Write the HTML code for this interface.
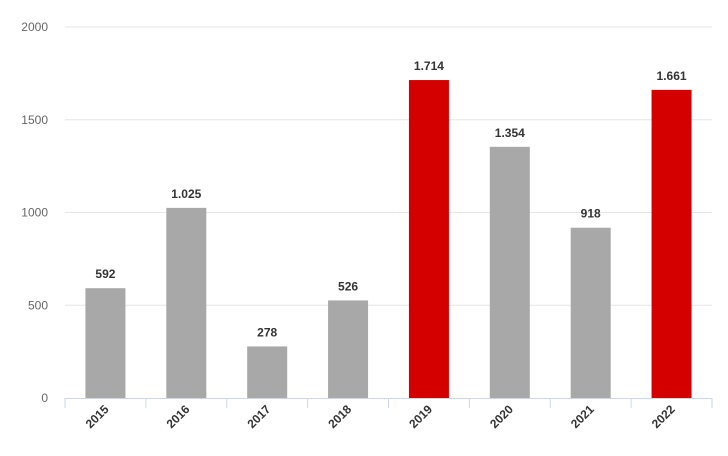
<!DOCTYPE html>
<html><head><meta charset="utf-8"><style>
html,body{margin:0;padding:0;background:#fff;}
svg{display:block;font-family:"Liberation Sans","DejaVu Sans",sans-serif;}
</style></head><body>
<svg id="chart" width="728" height="456" viewBox="0 0 728 456" xmlns="http://www.w3.org/2000/svg"></svg>
<script>
const categories = ["2015","2016","2017","2018","2019","2020","2021","2022"];
const values = [592,1025,278,526,1714,1354,918,1661];
const valueLabels = ["592","1.025","278","526","1.714","1.354","918","1.661"];
const highlighted = [false,false,false,false,true,false,false,true];
const yTicks = [0,500,1000,1500,2000];

const NS="http://www.w3.org/2000/svg";
const svgEl=document.getElementById('chart');
const plotLeft=65,plotRight=712,plotTop=27,plotBottom=398,yMax=2000;
const yScale=v=>plotBottom-(v/yMax)*(plotBottom-plotTop);
const band=(plotRight-plotLeft)/categories.length;
const xScale=i=>plotLeft+band*i;
function mk(t,a){const e=document.createElementNS(NS,t);for(const k in a)e.setAttribute(k,a[k]);svgEl.appendChild(e);return e;}

yTicks.forEach(t=>{
  if(t>0){const g=mk('line',{x1:plotLeft,x2:plotRight,y1:yScale(t),y2:yScale(t),stroke:'#e6e6e6','stroke-width':1});
  
  }
  const l=mk('text',{x:48,y:yScale(t)+4,'text-anchor':'end','font-size':12,fill:'#666'});
  l.textContent=t;
  
  
});

categories.forEach((c,i)=>{
  const cx=xScale(i)+band/2,w=40;
  const r=mk('rect',{x:cx-w/2,y:yScale(values[i]),width:w,height:plotBottom-yScale(values[i]),fill:highlighted[i]?'#d40000':'#a8a8a8'});
  
  
  const v=mk('text',{x:cx,y:yScale(values[i])-10,'text-anchor':'middle','font-size':12,'font-weight':'bold',fill:'#333'});
  v.textContent=valueLabels[i];
  
  
  const tk=mk('line',{x1:xScale(i),x2:xScale(i),y1:plotBottom,y2:plotBottom+10,stroke:'#ccd6eb','stroke-width':1});
  
  
  const tl=mk('text',{x:cx+4,y:plotBottom+12,'text-anchor':'end','font-size':12,'font-weight':'bold',fill:'#333',transform:'rotate(-45 '+(cx+4)+' '+(plotBottom+12)+')'});
  tl.textContent=c;
  
  
});
const lt=mk('line',{x1:plotRight,x2:plotRight,y1:plotBottom,y2:plotBottom+10,stroke:'#ccd6eb','stroke-width':1});


const ax=mk('line',{x1:plotLeft,x2:plotRight,y1:plotBottom+0.5,y2:plotBottom+0.5,stroke:'#ccd6eb','stroke-width':1});


</script>
</body></html>
